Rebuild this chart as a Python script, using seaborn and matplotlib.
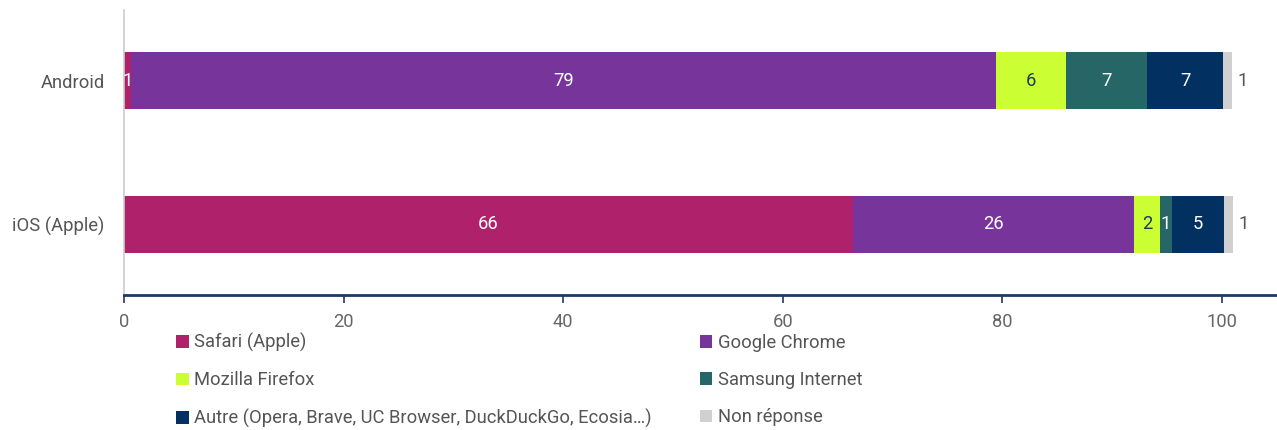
import matplotlib.pyplot as plt
import seaborn as sns
import numpy as np

# Platforms (y categories) and browsers (stack segments)
platforms = ['Android', 'iOS (Apple)']
browsers = ['Safari (Apple)', 'Google Chrome', 'Mozilla Firefox', 'Samsung Internet',
            'Autre (Opera, Brave, UC Browser, DuckDuckGo, Ecosia…)', 'Non réponse']

# Shares in %: [Android, iOS]
safari = [0.6, 66.4]
chrome = [78.8, 25.6]
firefox = [6.4, 2.3]
samsung = [7.4, 1.1]
autre = [6.9, 4.8]
non_reponse = [0.8, 0.8]

series = [safari, chrome, firefox, samsung, autre, non_reponse]
colors = ['#B0216B', '#77359B', '#CCFF33', '#276666', '#023060', '#D0D0D0']
label_colors = ['white', 'white', '#1c3a5e', 'white', 'white', '#555555']

sns.set_style('white')
plt.rcParams['font.family'] = ['Roboto', 'DejaVu Sans']
plt.rcParams['font.size'] = 13.2

fig = plt.figure(figsize=(12.77, 4.30), dpi=100)
ax = fig.add_axes([124 / 1277, 1 - 295 / 430, 1 - 124 / 1277, 285 / 430])

left = np.zeros(len(platforms))
for name, vals, col, lcol in zip(browsers, series, colors, label_colors):
    sns.barplot(x=vals, y=platforms, left=left, color=col, saturation=1,
                width=0.4, orient='h', errorbar=None, label=name,
                linewidth=0, ax=ax)
    cont = ax.containers[-1]
    labs = [f'{v:.0f}' for v in vals]
    if name == 'Non réponse':
        ax.bar_label(cont, labels=labs, label_type='edge', padding=4, color=lcol)
    else:
        ax.bar_label(cont, labels=labs, label_type='center', color=lcol)
    left = left + np.array(vals)

ax.set_xlim(0, 105)
ax.set_ylim(1.49, -0.49)
ax.set_xticks([0, 20, 40, 60, 80, 100])
ax.set_xlabel('')
ax.set_ylabel('')

for s in ['top', 'right']:
    ax.spines[s].set_visible(False)
ax.spines['left'].set_color('#cccccc')
ax.spines['left'].set_linewidth(1.2)
ax.spines['bottom'].set_color('#1f3864')
ax.spines['bottom'].set_linewidth(2)
ax.tick_params(axis='x', length=6, width=1.2, color='#1f3864',
               labelcolor='#666666', pad=7, bottom=True)
ax.tick_params(axis='y', length=0, labelcolor='#555555', pad=14)

# legend, filled row by row
handles, labels = ax.get_legend_handles_labels()
order = [0, 2, 4, 1, 3, 5]
if ax.get_legend() is not None:
    ax.get_legend().remove()
fig.legend([handles[i] for i in order], [labels[i] for i in order],
           loc='upper left', bbox_to_anchor=(176 / 1277, 1 - 333 / 430),
           ncol=2, frameon=False, borderpad=0, borderaxespad=0,
           handlelength=0.7, handleheight=0.7, handletextpad=0.3,
           labelspacing=1.05, columnspacing=2.6, labelcolor='#555555')

fig.savefig('out.png', dpi=100)
